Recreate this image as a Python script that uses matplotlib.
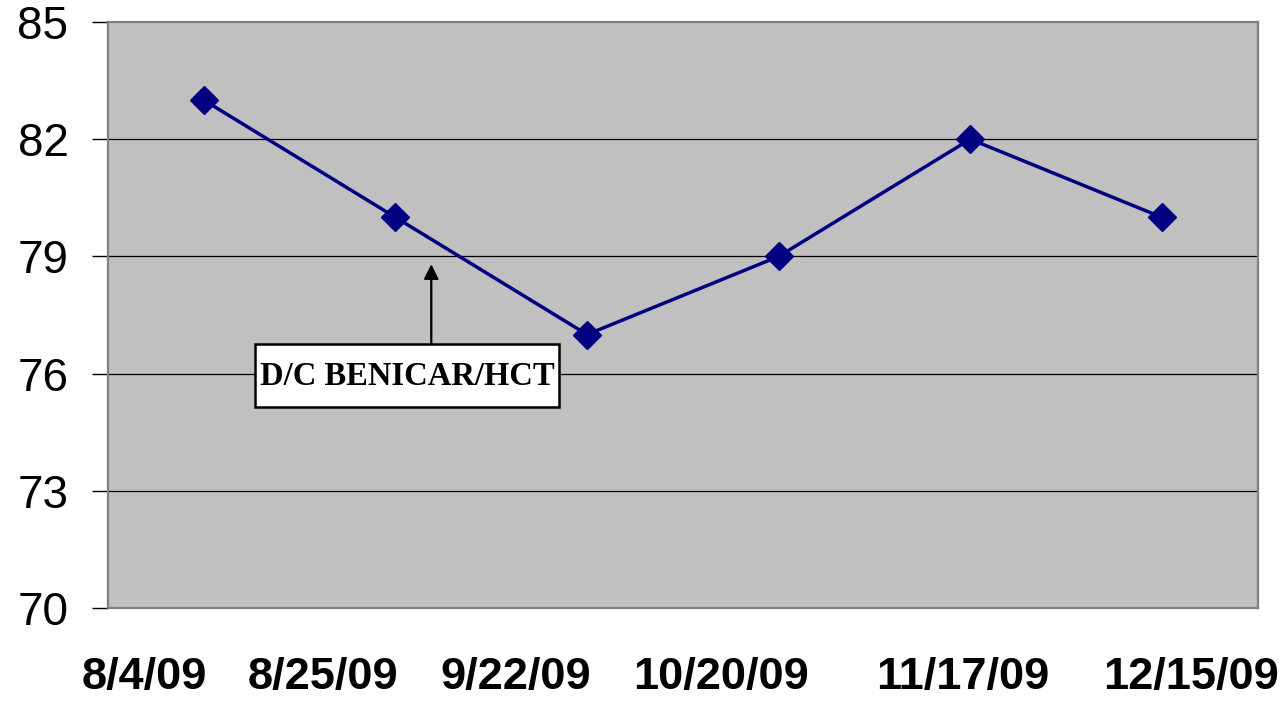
import matplotlib.pyplot as plt
from matplotlib.patches import Rectangle

# valores
fechas = ['8/4/09', '8/25/09', '9/22/09', '10/20/09', '11/17/09', '12/15/09']
valores = [83, 80, 77, 79, 82, 80]
yticks = [70, 73, 76, 79, 82, 85]

# las etiquetas del eje x no caen justo bajo los puntos
pos_etiquetas = [-0.31, 0.62, 1.625, 2.70, 3.96, 5.15]

plt.rcParams['font.family'] = ['Liberation Sans', 'DejaVu Sans']

fig = plt.figure(figsize=(12.86, 7.01), dpi=100)
ax = fig.add_axes([0.084, 0.1327, 0.894, 0.8359])
ax.set_facecolor('#C0C0C0')

x = list(range(len(valores)))
ax.plot(x, valores, color='#000080', lw=2.5, marker='D', markersize=14,
        markerfacecolor='#000080', markeredgecolor='#000080', zorder=3)

ax.set_xlim(-0.5, 5.5)
ax.set_ylim(70, 85)
ax.set_yticks(yticks)
ax.set_yticklabels([str(v) for v in yticks], fontsize=33)
ax.tick_params(axis='y', length=11.5, width=1, color='black', pad=17, direction='out')

ax.set_xticks(pos_etiquetas)
ax.set_xticklabels(fechas, fontsize=32.5, fontweight='bold')
ax.tick_params(axis='x', length=0, pad=35)

for v in yticks[1:-1]:
    ax.axhline(v, color='black', lw=0.9, zorder=1)

for s in ax.spines.values():
    s.set_color('#808080')
    s.set_linewidth(1.6)

# anotacion
ax.annotate('', xy=(1.187, 78.8), xytext=(1.187, 76.76),
            arrowprops=dict(arrowstyle='-|>', color='black', lw=1.6,
                            mutation_scale=22, shrinkA=0, shrinkB=0), zorder=4)
ax.add_patch(Rectangle((0.268, 75.15), 1.587, 1.61, facecolor='white',
                       edgecolor='black', lw=1.8, zorder=5))
ax.text(1.06, 75.93, 'D/C BENICAR/HCT', fontsize=23.5, fontweight='bold',
        family=['Liberation Serif', 'DejaVu Serif'], ha='center', va='center',
        zorder=6)

fig.savefig('out.png', dpi=100)
